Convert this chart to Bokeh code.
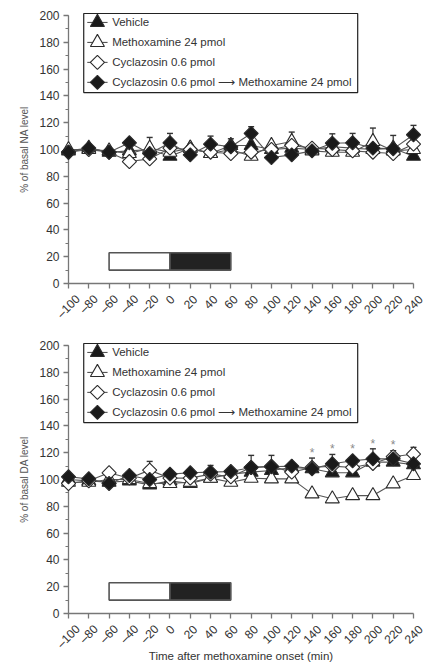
import math
from bokeh.plotting import figure
from bokeh.layouts import column
from bokeh.models import SingleIntervalTicker, FixedTicker, ColumnDataSource
from bokeh.core.properties import value
from bokeh.embed import file_html
from bokeh.resources import INLINE

# ---------------- data ----------------
time = [-100, -80, -60, -40, -20, 0, 20, 40, 60, 80, 100, 120, 140, 160, 180, 200, 220, 240]
x_ticks = [-100, -80, -60, -40, -20, 0, 20, 40, 60, 80, 100, 120, 140, 160, 180, 200, 220, 240]
x_tick_labels = ["\u2013100", "\u201380", "\u201360", "\u201340", "\u201320", "0", "20", "40", "60",
                 "80", "100", "120", "140", "160", "180", "200", "220", "240"]

series_names = ["Vehicle", "Methoxamine 24 pmol", "Cyclazosin 0.6 pmol",
                "Cyclazosin 0.6 pmol \u27f6 Methoxamine 24 pmol"]
x_title = "Time after methoxamine onset (min)"

# NA panel (% of basal)
na_vehicle = [99, 101, 98, 99, 100, 95, 101, 97, 103, 103, 100, 101, 100, 102, 101, 100, 101, 95]
na_methox = [100, 100, 99, 97, 101, 98, 101, 97, 100, 95, 103, 106, 99, 98, 98, 106, 99, 100]
na_cyclaz = [98, 100, 98, 91, 93, 101, 100, 98, 97, 98, 100, 103, 101, 100, 99, 98, 97, 104]
na_combo = [98, 101, 98, 105, 97, 105, 96, 104, 102, 112, 94, 96, 99, 104.7, 105, 101, 100.5, 111]
na_vehicle_err = [0, 0, 0, 0, 0, 0, 0, 0, 0, 0, 0, 0, 0, 0, 0, 0, 0, 0]
na_methox_err = [0, 0, 0, 0, 8, 0, 0, 0, 0, 0, 0, 7, 0, 0, 0, 10, 0, 0]
na_cyclaz_err = [0, 0, 0, 0, 0, 0, 0, 0, 0, 0, 0, 0, 0, 0, 0, 0, 0, 0]
na_combo_err = [0, 0, 0, 0, 0, 7, 0, 6, 6, 5, 0, 0, 0, 7, 7, 0, 10, 7]

# DA panel (% of basal)
da_vehicle = [100, 99, 98, 99, 96, 99, 97, 101, 104, 105.5, 106.7, 109, 108, 105, 105, 113, 113, 111]
da_methox = [98, 98, 100, 100, 97, 97, 98, 101, 98, 101, 100.5, 100.5, 89.3, 85.6, 88, 88, 96.8, 103]
da_cyclaz = [97, 99, 105, 101, 107, 101, 101, 104, 102, 109, 110, 105.5, 109, 110, 109, 112, 117, 119]
da_combo = [102, 100.5, 97, 103, 100, 104, 105, 105.5, 106, 109, 109.5, 110, 108, 111.7, 114, 115.4, 115.4, 111.7]
da_vehicle_err = [0, 0, 0, 0, 0, 0, 0, 0, 0, 0, 0, 0, 0, 0, 0, 0, 8.5, 0]
da_methox_err = [0, 0, 0, 0, 0, 0, 0, 0, 0, 0, 0, 0, 0, 0, 0, 0, 0, 0]
da_cyclaz_err = [0, 0, 0, 0, 6.5, 0, 0, 0, 0, 9, 8, 0, 0, 0, 0, 0, 0, 5]
da_combo_err = [0, 0, 0, 0, 0, 0, 0, 5, 0, 0, 0, 0, 8, 7, 0, 7.5, 0, 0]

# significance marks (DA panel)
star_time = [140, 160, 180, 200, 220]
star_level = [123, 126, 126, 129.6, 129]

# treatment periods (cyclazosin pre-treatment, methoxamine infusion)
pre_period = [-60, 0]
post_period = [0, 60]

# ---------------- styling ----------------
FONT = "Liberation Sans"
TEXT = "#333333"
AXIS = "#777777"
LINE = "#555555"
MARK = "#1a1a1a"
TICK_FONT_PX = 12

styles = [
    dict(marker="triangle", size=14, fill=MARK, angle=0.0),
    dict(marker="triangle", size=14, fill="white", angle=0.0),
    dict(marker="square", size=10, fill="white", angle=math.pi / 4),
    dict(marker="square", size=10, fill=MARK, angle=math.pi / 4),
]

# legend layout (data coordinates)
LEG_BOX = dict(left=-85, right=185, bottom=142.5, top=201.5)
LEG_ROWS = [194.8, 179.9, 165.0, 150.1]
LEG_LINE = (-81.5, -61.5)
LEG_MARK_X = -71.5
LEG_TEXT_X = -57


def overlay(r):
    r.level = "overlay"
    return r


def tick_label_offsets(labels):
    # rotated (45 deg) labels, centred on the tick, tops aligned ~10 px below axis
    out = []
    for lab in labels:
        w = 0.556 * TICK_FONT_PX * len(lab)
        h = 10.0
        half = (w + h) * math.sqrt(0.5) / 2
        out.append(10 + half)
    return out


def make_panel(ylabel, data, errs, height, min_top, min_bottom, xlabel=None, stars=None):
    p = figure(width=425, height=height, x_range=(-100, 240), y_range=(0, 200),
               output_backend="svg", toolbar_location=None,
               min_border_left=68, min_border_right=12, min_border_top=min_top,
               min_border_bottom=min_bottom)
    p.outline_line_color = None
    p.xgrid.visible = False
    p.ygrid.visible = False
    p.background_fill_color = "white"

    # axes
    p.xaxis.ticker = FixedTicker(ticks=x_ticks)
    p.xaxis.major_label_overrides = {t: "" for t in x_ticks}
    p.yaxis.ticker = SingleIntervalTicker(interval=20, num_minor_ticks=2)
    for ax in (p.xaxis[0], p.yaxis[0]):
        ax.axis_line_color = AXIS
        ax.axis_line_width = 1.3
        ax.major_tick_line_color = AXIS
        ax.major_tick_line_width = 1.3
        ax.minor_tick_line_color = AXIS
        ax.major_tick_in = 0
        ax.major_tick_out = 5
        ax.minor_tick_in = 0
        ax.minor_tick_out = 3
        ax.major_label_text_font = FONT
        ax.major_label_text_font_size = f"{TICK_FONT_PX}px"
        ax.major_label_text_color = TEXT
        ax.axis_label_text_font = FONT
        ax.axis_label_text_font_style = "normal"
        ax.axis_label_text_color = TEXT
    p.xaxis.minor_tick_line_color = None
    p.yaxis.major_label_standoff = 4
    p.yaxis.axis_label = ylabel
    p.yaxis.axis_label_text_font_size = "10px"
    p.yaxis.axis_label_text_color = "#555555"
    p.yaxis.axis_label_standoff = 6

    # rotated x tick labels, centred under each tick
    lab_src = ColumnDataSource(dict(x=x_ticks, y=[0] * len(x_ticks), text=x_tick_labels,
                                    yoff=tick_label_offsets(x_tick_labels)))
    overlay(p.text(x="x", y="y", text="text", y_offset="yoff", source=lab_src,
                   angle=math.pi / 4, text_align="center", text_baseline="middle",
                   text_font=value(FONT), text_font_size=f"{TICK_FONT_PX}px", text_color=TEXT))

    # x-axis title, placed below the tick labels
    if xlabel:
        overlay(p.text(x=[(x_ticks[0] + x_ticks[-1]) / 2], y=[0], text=[xlabel], y_offset=42,
                       text_align="center", text_baseline="middle",
                       text_font=value(FONT), text_font_size="11.5px", text_color=TEXT))

    # treatment bar
    overlay(p.quad(left=[pre_period[0]], right=[pre_period[1]], bottom=10, top=23,
                   fill_color="white", line_color="#555555", line_width=1.6))
    overlay(p.quad(left=[post_period[0]], right=[post_period[1]], bottom=10, top=23,
                   fill_color="#222222", line_color="#555555", line_width=1.6))

    # series
    for vals, err, st in zip(data, errs, styles):
        et = [t for t, e in zip(time, err) if e > 0]
        ev = [v for v, e in zip(vals, err) if e > 0]
        eu = [v + e for v, e in zip(vals, err) if e > 0]
        if et:
            overlay(p.segment(x0=et, y0=ev, x1=et, y1=eu, line_color="#333333", line_width=1.2))
            overlay(p.scatter(x=et, y=eu, marker="dash", size=6, line_color="#333333", line_width=1.4))
        overlay(p.line(time, vals, line_color=LINE, line_width=1.1))
        overlay(p.scatter(time, vals, marker=st["marker"], size=st["size"], angle=st["angle"],
                          fill_color=st["fill"], line_color="#2a2a2a", line_width=1.1))

    if stars:
        overlay(p.text(x=stars[0], y=stars[1], text=["*"] * len(stars[0]),
                       text_font=value(FONT), text_font_size="12px", text_color="#8a8a8a",
                       text_align="center", text_baseline="middle", y_offset=4))

    # legend (drawn as plain glyphs)
    overlay(p.quad(left=[LEG_BOX["left"]], right=[LEG_BOX["right"]],
                   bottom=[LEG_BOX["bottom"]], top=[LEG_BOX["top"]],
                   fill_color="white", line_color="#222222", line_width=1.2))
    for y, st in zip(LEG_ROWS, styles):
        overlay(p.segment(x0=[LEG_LINE[0]], y0=[y], x1=[LEG_LINE[1]], y1=[y],
                          line_color=LINE, line_width=1.1))
        overlay(p.scatter([LEG_MARK_X], [y], marker=st["marker"], size=st["size"], angle=st["angle"],
                          fill_color=st["fill"], line_color="#2a2a2a", line_width=1.1))
    overlay(p.text(x=[LEG_TEXT_X] * len(series_names), y=LEG_ROWS, text=series_names,
                   text_font=value(FONT), text_font_size="11.5px", text_color=TEXT,
                   text_baseline="middle", text_align="left"))
    return p


top = make_panel("% of basal NA level",
                 [na_vehicle, na_methox, na_cyclaz, na_combo],
                 [na_vehicle_err, na_methox_err, na_cyclaz_err, na_combo_err],
                 height=338, min_top=15, min_bottom=55)
bottom = make_panel("% of basal DA level",
                    [da_vehicle, da_methox, da_cyclaz, da_combo],
                    [da_vehicle_err, da_methox_err, da_cyclaz_err, da_combo_err],
                    height=326, min_top=7, min_bottom=51,
                    xlabel=x_title, stars=(star_time, star_level))

layout = column(top, bottom, spacing=0)
open("out.html", "w").write(file_html(layout, INLINE))
